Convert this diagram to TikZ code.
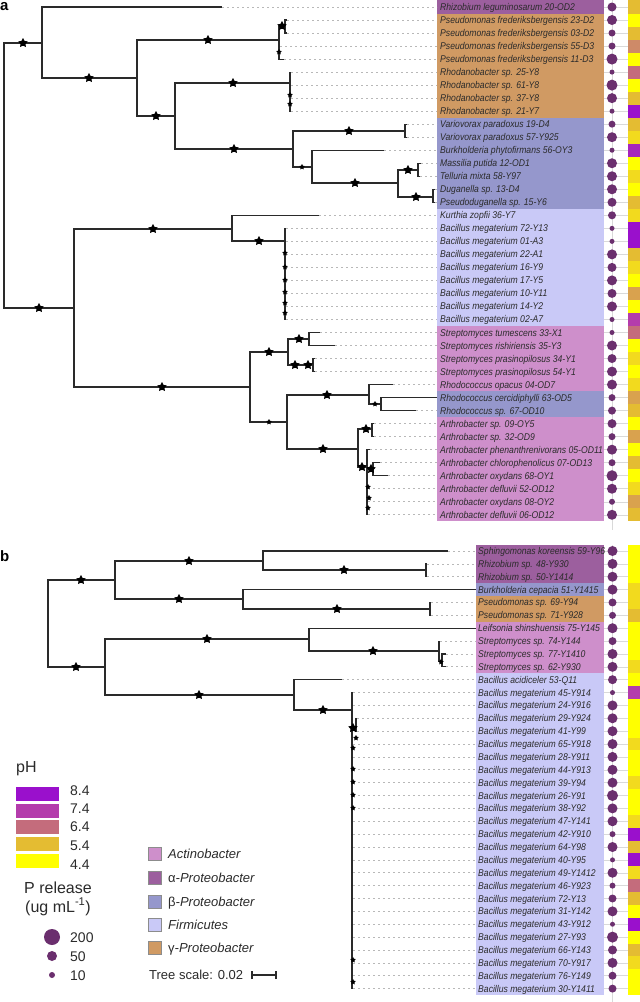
\documentclass[tikz,border=0pt]{standalone}
\usepackage{fontspec}
\setmainfont{Liberation Sans}
\newfontfamily\taxfont[FakeStretch=0.88]{Liberation Sans}
\usetikzlibrary{shapes.geometric}
\definecolor{alp}{HTML}{9C5F9E}
\definecolor{gam}{HTML}{D09A63}
\definecolor{bet}{HTML}{9597CC}
\definecolor{fir}{HTML}{C9C9F7}
\definecolor{act}{HTML}{CE8FCB}
\definecolor{dotcol}{HTML}{6B2F6E}
\definecolor{cP8}{HTML}{9A10CC}
\definecolor{cP7}{HTML}{B43CAC}
\definecolor{cP78}{HTML}{A626BC}
\definecolor{cR6}{HTML}{C46C7C}
\definecolor{cRO}{HTML}{CE8A68}
\definecolor{cO}{HTML}{D9A24E}
\definecolor{cM}{HTML}{E4BC32}
\definecolor{cYM}{HTML}{F2DA1E}
\definecolor{cY}{HTML}{FFFF00}
\definecolor{tree}{HTML}{2A2A2A}
\definecolor{txt}{HTML}{2B2B2B}
\tikzset{
  br/.style={draw=tree, line width=1.15pt},
  bst/.style={star, star points=5, star point ratio=1.9, fill=black, draw=none, inner sep=0pt, minimum size=10pt},
  sst/.style={bst, minimum size=6pt},
  lead/.style={draw=black!28, line width=0.7pt, dash pattern=on 2.2pt off 2.8pt},
  faint/.style={draw=black!15, line width=0.5pt},
  taxon/.style={anchor=base west, inner sep=0pt, text=txt, font=\taxfont\fontsize{9.8}{11}\selectfont\itshape},
  dotc/.style={circle, fill=dotcol, draw=none, inner sep=0pt},
  legnum/.style={anchor=base west, inner sep=0pt, text=txt, font=\fontsize{14}{16}\selectfont},
  phyl/.style={anchor=base west, inner sep=0pt, text=txt, font=\fontsize{13}{15}\selectfont},
}
\begin{document}
\begin{tikzpicture}[x=1pt,y=-1pt]
\useasboundingbox (0,0) rectangle (640,1002);
\fill[white] (0,0) rectangle (640,1002);
% ---------- group backgrounds ----------
\fill[alp] (437,0.49) rectangle (604,13.51);
\fill[gam] (437,13.51) rectangle (604,117.67);
\fill[bet] (437,117.67) rectangle (604,208.81);
\fill[fir] (437,208.81) rectangle (604,325.99);
\fill[act] (437,325.99) rectangle (604,391.09);
\fill[bet] (437,391.09) rectangle (604,417.13);
\fill[act] (437,417.13) rectangle (604,521.29);
\fill[alp] (476,544.57) rectangle (604,583.18);
\fill[bet] (476,583.18) rectangle (604,596.05);
\fill[gam] (476,596.05) rectangle (604,621.79);
\fill[act] (476,621.79) rectangle (604,673.27);
\fill[fir] (476,673.27) rectangle (604,995.02);
\draw[faint] (612,0) -- (612,530);
\draw[faint] (612.5,545) -- (612.5,1002);
% ---------- panel a rows ----------
\foreach \tx/\t/\r/\c [count=\i from 0] in {
222/{Rhizobium leguminosarum 20-OD2}/4.5/cM,
287/{Pseudomonas frederiksbergensis 23-D2}/5/cY,
287/{Pseudomonas frederiksbergensis 03-D2}/3.5/cM,
280/{Pseudomonas frederiksbergensis 55-D3}/3.5/cRO,
284/{Pseudomonas frederiksbergensis 11-D3}/5.5/cY,
291/{Rhodanobacter sp. 25-Y8}/2.5/cR6,
291/{Rhodanobacter sp. 61-Y8}/5.5/cY,
291/{Rhodanobacter sp. 37-Y8}/5/cM,
291/{Rhodanobacter sp. 21-Y7}/2.5/cP8,
407/{Variovorax paradoxus 19-D4}/3.5/cM,
407/{Variovorax paradoxus 57-Y925}/5/cYM,
384/{Burkholderia phytofirmans 56-OY3}/2.5/cP78,
421/{Massilia putida 12-OD1}/5/cY,
420/{Telluria mixta 58-Y97}/5/cYM,
435/{Duganella sp. 13-D4}/5/cY,
435/{Pseudoduganella sp. 15-Y6}/4.5/cM,
319/{Kurthia zopfii 36-Y7}/4/cYM,
286/{Bacillus megaterium 72-Y13}/2.5/cP8,
286/{Bacillus megaterium 01-A3}/2.5/cP8,
286/{Bacillus megaterium 22-A1}/5/cM,
286/{Bacillus megaterium 16-Y9}/4.5/cYM,
286/{Bacillus megaterium 17-Y5}/5/cY,
286/{Bacillus megaterium 10-Y11}/4.5/cO,
286/{Bacillus megaterium 14-Y2}/5/cY,
286/{Bacillus megaterium 02-A7}/2.5/cP7,
320/{Streptomyces tumescens 33-X1}/2.5/cR6,
335/{Streptomyces rishiriensis 35-Y3}/5/cY,
315/{Streptomyces prasinopilosus 34-Y1}/4.5/cYM,
315/{Streptomyces prasinopilosus 54-Y1}/5/cY,
393/{Rhodococcus opacus 04-OD7}/5/cYM,
437/{Rhodococcus cercidiphylli 63-OD5}/3.5/cO,
416/{Rhodococcus sp. 67-OD10}/4/cM,
374/{Arthrobacter sp. 09-OY5}/4.5/cY,
374/{Arthrobacter sp. 32-OD9}/3.5/cO,
370/{Arthrobacter phenanthrenivorans 05-OD11}/5/cY,
380/{Arthrobacter chlorophenolicus 07-OD13}/3.5/cM,
388/{Arthrobacter oxydans 68-OY1}/5.5/cY,
368/{Arthrobacter defluvii 52-OD12}/5/cYM,
368/{Arthrobacter oxydans 08-OY2}/3/cO,
368/{Arthrobacter defluvii 06-OD12}/5/cM}
{
 \pgfmathsetmacro\yy{7+13.02*\i}
 \fill[\c] (628,\yy-6.52) rectangle (640,\yy+6.52);
 \coordinate (a\i) at (\tx,\yy);
 \coordinate (ea\i) at (437,\yy);
 \draw[lead] (a\i) -- (ea\i);
 \draw[faint] (604,\yy) -- (628,\yy);
 \node[taxon] (ta\i) at (440,\yy+3.5) {\t};
 \node[dotc, minimum size=\r*2pt] (ca\i) at (612,\yy) {};
}
% ---------- panel b rows ----------
\foreach \tx/\t/\r/\c [count=\i from 0] in {
448/{Sphingomonas koreensis 59-Y96}/5/cY,
427/{Rhizobium sp. 48-Y930}/5/cY,
427/{Rhizobium sp. 50-Y1414}/5/cY,
476/{Burkholderia cepacia 51-Y1415}/5/cYM,
431/{Pseudomonas sp. 69-Y94}/4/cYM,
431/{Pseudomonas sp. 71-Y928}/3.5/cM,
476/{Leifsonia shinshuensis 75-Y145}/5/cY,
440/{Streptomyces sp. 74-Y144}/4/cY,
446/{Streptomyces sp. 77-Y1410}/5/cY,
446/{Streptomyces sp. 62-Y930}/5/cYM,
342/{Bacillus acidiceler 53-Q11}/4.5/cY,
353/{Bacillus megaterium 45-Y914}/2.5/cP7,
353/{Bacillus megaterium 24-Y916}/5/cY,
357/{Bacillus megaterium 29-Y924}/5/cY,
357/{Bacillus megaterium 41-Y99}/5/cY,
353/{Bacillus megaterium 65-Y918}/5/cYM,
353/{Bacillus megaterium 28-Y911}/5/cY,
353/{Bacillus megaterium 44-Y913}/5/cY,
353/{Bacillus megaterium 39-Y94}/5/cYM,
353/{Bacillus megaterium 26-Y91}/5.5/cY,
353/{Bacillus megaterium 38-Y92}/5/cY,
353/{Bacillus megaterium 47-Y141}/5/cYM,
353/{Bacillus megaterium 42-Y910}/3/cP8,
353/{Bacillus megaterium 64-Y98}/5/cM,
353/{Bacillus megaterium 40-Y95}/2.5/cP8,
353/{Bacillus megaterium 49-Y1412}/5/cYM,
353/{Bacillus megaterium 46-Y923}/3/cR6,
353/{Bacillus megaterium 72-Y13}/4/cM,
353/{Bacillus megaterium 31-Y142}/5/cY,
353/{Bacillus megaterium 43-Y912}/2.5/cP8,
353/{Bacillus megaterium 27-Y93}/5.5/cY,
353/{Bacillus megaterium 66-Y143}/4.5/cM,
353/{Bacillus megaterium 70-Y917}/5/cYM,
353/{Bacillus megaterium 76-Y149}/4/cY,
353/{Bacillus megaterium 30-Y1411}/4/cY}
{
 \pgfmathsetmacro\yy{551+12.87*\i}
 \fill[\c] (628,\yy-6.44) rectangle (640,\yy+6.44);
 \coordinate (b\i) at (\tx,\yy);
 \coordinate (eb\i) at (476,\yy);
 \draw[lead] (b\i) -- (eb\i);
 \draw[faint] (604,\yy) -- (628,\yy);
 \node[taxon] (tb\i) at (478,\yy+3.5) {\t};
 \node[dotc, minimum size=\r*2pt] (cb\i) at (612.5,\yy) {};
}
% ---------- panel a tree ----------
\coordinate (rootA) at (4,175);
\coordinate (nA1) at (42,43);
\coordinate (nA2) at (137,78);
\coordinate (nPs) at (279,40);
\coordinate (nPs12) at (285,26.5);
\coordinate (nA3) at (175,116);
\coordinate (nRh) at (290,83);
\coordinate (nA4) at (293,149);
\coordinate (nV) at (405,131);
\coordinate (nA5) at (312,167);
\coordinate (nA6) at (398,183);
\coordinate (nM) at (418,170);
\coordinate (nD) at (433,197);
\coordinate (nB1) at (74,308);
\coordinate (nB2) at (232,229);
\coordinate (nBm) at (285,241);
\coordinate (nB3) at (250,387);
\coordinate (nS) at (288,352);
\coordinate (nS1) at (309,339);
\coordinate (nS2) at (313,365);
\coordinate (nRo) at (287,422);
\coordinate (nRh1) at (369,395);
\coordinate (nRh2) at (381,404);
\coordinate (nAr) at (358,449);
\coordinate (nAr1) at (372,429);
\coordinate (nAr2) at (367,467);
\coordinate (nAr3) at (373,469);
\foreach \p/\q in {rootA/nA1, rootA/nB1, nA1/a0, nA1/nA2, nA2/nPs, nA2/nA3,
  nPs/nPs12, nPs/a3, nPs/a4, nPs12/a1, nPs12/a2, nA3/nRh, nA3/nA4,
  nRh/a5, nRh/a6, nRh/a7, nRh/a8, nA4/nV, nA4/nA5, nV/a9, nV/a10,
  nA5/a11, nA5/nA6, nA6/nM, nA6/nD, nM/a12, nM/a13, nD/a14, nD/a15,
  nB1/nB2, nB1/nB3, nB2/a16, nB2/nBm,
  nBm/a17, nBm/a18, nBm/a19, nBm/a20, nBm/a21, nBm/a22, nBm/a23, nBm/a24,
  nB3/nS, nB3/nRo, nS/nS1, nS/nS2, nS1/a25, nS1/a26, nS2/a27, nS2/a28,
  nRo/nRh1, nRo/nAr, nRh1/a29, nRh1/nRh2, nRh2/a30, nRh2/a31,
  nAr/nAr1, nAr/nAr2, nAr1/a32, nAr1/a33, nAr2/a34, nAr2/nAr3,
  nAr2/a37, nAr2/a38, nAr2/a39, nAr3/a35, nAr3/a36}
  {\draw[br] (\p) |- (\q);}
% ---------- panel b tree ----------
\coordinate (rootB) at (48,623);
\coordinate (nC1) at (115,580);
\coordinate (nC3) at (263,561);
\coordinate (nRz) at (426,570);
\coordinate (nC4) at (243,599);
\coordinate (nPsb) at (430,609);
\coordinate (nC2) at (105,667);
\coordinate (nC5) at (309,639);
\coordinate (nSt) at (439,651);
\coordinate (nSt2) at (442,661);
\coordinate (nC6) at (294,695);
\coordinate (nBmb) at (352,710);
\coordinate (nBs) at (356,728);
\foreach \p/\q in {rootB/nC1, rootB/nC2, nC1/nC3, nC1/nC4, nC3/b0, nC3/nRz,
  nRz/b1, nRz/b2, nC4/b3, nC4/nPsb, nPsb/b4, nPsb/b5, nC2/nC5, nC2/nC6,
  nC5/b6, nC5/nSt, nSt/b7, nSt/nSt2, nSt2/b8, nSt2/b9, nC6/b10, nC6/nBmb,
  nBmb/b11, nBmb/b12, nBmb/nBs, nBs/b13, nBs/b14}
  {\draw[br] (\p) |- (\q);}
\foreach \k in {15,...,34} {\draw[br] (nBmb) |- (b\k);}
% ---------- bootstrap stars ----------
\foreach \x/\y [count=\k] in {23/43, 89/78, 208/40, 156/116, 233/83, 234/149,
  349/131, 355/183, 408/170, 416/197, 282/26, 39/308, 153/229, 259/241,
  162/387, 269/352, 299/339, 295/365, 308/365, 327/395, 323/449, 366/429,
  362/467, 371/469,
  81/580, 76/667, 189/561, 179/599, 344/570, 337/609, 207/639, 199/695,
  373/651, 323/710, 353/728}
  {\node[bst] (bs\k) at (\x,\y) {};}
\foreach \x/\y [count=\k] in {302/167, 279/52, 290/95, 290/104, 285/253,
  285/267, 285/280, 285/292, 285/303, 285/313, 269/422, 375/404, 368/487,
  369/498, 368/508,
  441/662, 356/738, 353/748, 353/769, 353/782, 353/795, 353/808, 353/960, 353/982}
  {\node[sst] (ss\k) at (\x,\y) {};}
% ---------- panel letters ----------
\node[anchor=base west, inner sep=0pt, font=\bfseries\fontsize{15}{15}\selectfont] (lblA) at (0,10.5) {a};
\node[anchor=base west, inner sep=0pt, font=\bfseries\fontsize{15}{15}\selectfont] (lblB) at (0,561.5) {b};
% ---------- pH legend ----------
\node[anchor=base west, inner sep=0pt, text=txt, font=\fontsize{16}{18}\selectfont] (phT) at (16,772) {pH};
\foreach \c/\lab/\yt/\yl [count=\k] in {cP8/8.4/787/790.5, cP7/7.4/803.7/808.5,
  cR6/6.4/820.4/826.7, cM/5.4/837.1/845, cY/4.4/853.8/864}
  {\fill[\c] (16,\yt) rectangle (59,\yt+14);
   \node[legnum] (pl\k) at (70,\yl+5) {\lab};}
\node[anchor=base, inner sep=0pt, text=txt, font=\fontsize{16}{18}\selectfont] (prT) at (58,893.5) {P release};
\node[anchor=base, inner sep=0pt, text=txt, font=\fontsize{16}{18}\selectfont] (prU) at (58,912) {(ug mL\textsuperscript{-1})};
\node[dotc, minimum size=16pt] (lc1) at (52,937) {};
\node[dotc, minimum size=10pt] (lc2) at (52,956) {};
\node[dotc, minimum size=6pt] (lc3) at (52,975) {};
\node[legnum] (lc1t) at (70,942) {200};
\node[legnum] (lc2t) at (70,961) {50};
\node[legnum] (lc3t) at (70,980) {10};
% ---------- phylum legend ----------
\foreach \c/\lab/\yc [count=\k] in {act/{\itshape Actinobacter}/854,
  alp/{α\itshape -Proteobacter}/877.7, bet/{β\itshape -Proteobacter}/901.3,
  fir/{\itshape Firmicutes}/924.7, gam/{γ\itshape -Proteobacter}/947.7}
  {\node[draw=black!45, line width=0.6pt, fill=\c, minimum size=13pt, inner sep=0pt] (pbx\k) at (154.5,\yc) {};
   \node[phyl] (pbt\k) at (168,\yc+4.7) {\lab};}
% ---------- tree scale ----------
\node[phyl] (tsT) at (149,979.7) {Tree scale: 0.02};
\coordinate (sbL) at (252,975);
\coordinate (sbR) at (276,975);
\draw[br] (sbL) -- (sbR);
\draw[br] ([yshift=-4pt]sbL) -- ([yshift=4pt]sbL);
\draw[br] ([yshift=-4pt]sbR) -- ([yshift=4pt]sbR);
\end{tikzpicture}
\end{document}
